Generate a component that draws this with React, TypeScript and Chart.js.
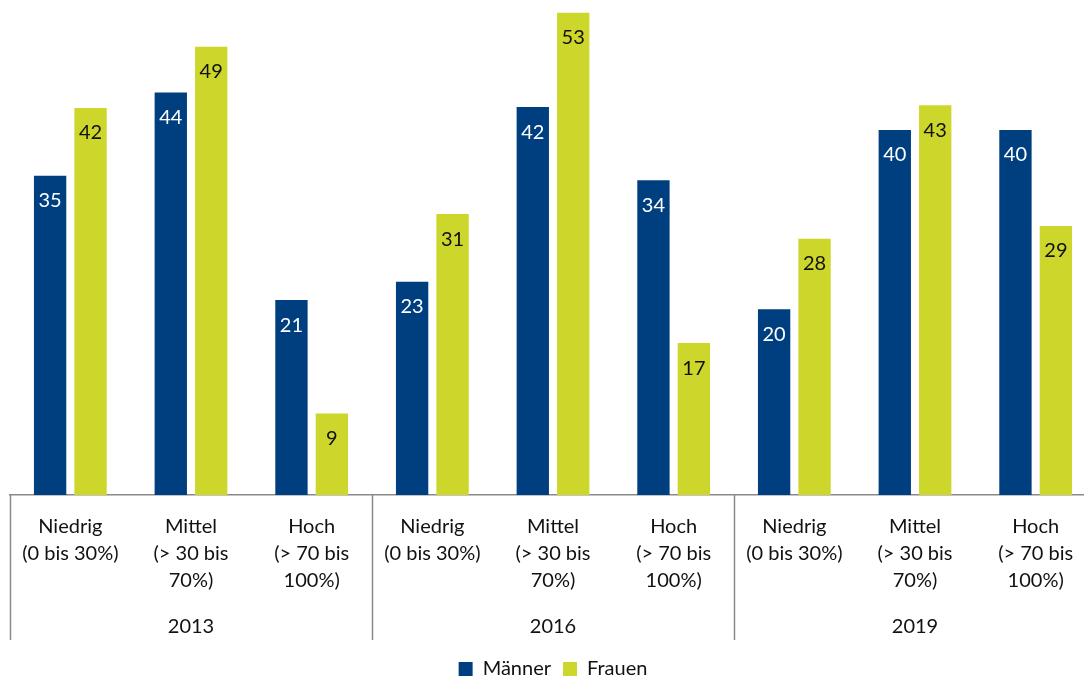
import React, { useEffect, useRef } from "react";
import { Chart, registerables } from "chart.js";

Chart.register(...registerables);

const categories: string[][] = [
  ["Niedrig", "(0 bis 30%)"],
  ["Mittel", "(> 30 bis", "70%)"],
  ["Hoch", "(> 70 bis", "100%)"],
  ["Niedrig", "(0 bis 30%)"],
  ["Mittel", "(> 30 bis", "70%)"],
  ["Hoch", "(> 70 bis", "100%)"],
  ["Niedrig", "(0 bis 30%)"],
  ["Mittel", "(> 30 bis", "70%)"],
  ["Hoch", "(> 70 bis", "100%)"],
];
const years = ["2013", "2016", "2019"];
const maenner = [34.9, 44.0, 21.3, 23.3, 42.4, 34.4, 20.3, 39.9, 39.9];
const frauen = [42.3, 49.0, 8.9, 30.7, 52.7, 16.6, 28.0, 42.6, 29.4];

const FONT = "Lato, 'Open Sans', sans-serif";
const BLUE = "#003F7F";
const GREEN = "#CDD62B";
const LINE = "#8a8a8a";

const groupPlugin = {
  id: "groupPlugin",
  afterDraw(chart: any) {
    const ctx = chart.ctx;
    const x = chart.scales.x;
    const area = chart.chartArea;
    const n = categories.length;
    const w = (x.right - x.left) / n;
    ctx.save();
    ctx.strokeStyle = LINE;
    ctx.lineWidth = 1.5;
    for (let g = 0; g < years.length; g++) {
      const lx = Math.round(x.getPixelForValue(g * 3) - w / 2) + 0.5;
      ctx.beginPath();
      ctx.moveTo(lx, area.bottom);
      ctx.lineTo(lx, area.bottom + 145);
      ctx.stroke();
      ctx.fillStyle = "#111";
      ctx.font = `20px ${FONT}`;
      ctx.textAlign = "center";
      ctx.textBaseline = "middle";
      ctx.fillText(years[g], x.getPixelForValue(g * 3 + 1), area.bottom + 132);
    }
    // value labels
    ctx.font = `20px ${FONT}`;
    ctx.textAlign = "center";
    ctx.textBaseline = "middle";
    chart.data.datasets.forEach((ds: any, di: number) => {
      const meta = chart.getDatasetMeta(di);
      meta.data.forEach((bar: any, i: number) => {
        ctx.fillStyle = di === 0 ? "#ffffff" : "#111111";
        ctx.fillText(String(Math.round(ds.data[i])), bar.x, bar.y + 25);
      });
    });
    ctx.restore();
  },
};

export default function App() {
  const ref = useRef<HTMLCanvasElement>(null);
  useEffect(() => {
    document.body.style.margin = "0";
    const chart = new Chart(ref.current!, {
      type: "bar",
      data: {
        labels: categories,
        datasets: [
          { label: "Männer", data: maenner, backgroundColor: BLUE },
          { label: "Frauen", data: frauen, backgroundColor: GREEN },
        ],
      },
      options: {
        animation: false,
        responsive: true,
        maintainAspectRatio: false,
        layout: { padding: { left: 10, right: 0, top: 0, bottom: -9 } },
        datasets: { bar: { categoryPercentage: 0.67, barPercentage: 0.8 } },
        scales: {
          x: {
            grid: { display: false, drawTicks: false },
            border: { display: true, color: LINE, width: 1.5 },
            ticks: {
              color: "#111",
              font: { family: FONT, size: 20, lineHeight: 1.35 },
              padding: 18,
              maxRotation: 0,
              autoSkip: false,
            },
            afterFit(scale: any) {
              scale.height = 152;
            },
          },
          y: {
            display: false,
            min: 0,
            max: 54.1,
          },
        },
        plugins: {
          legend: {
            position: "bottom",
            labels: {
              font: { family: FONT, size: 20 },
              color: "#111",
              boxWidth: 14,
              boxHeight: 14,
              padding: 12,
            },
          },
          tooltip: { enabled: false },
        },
      },
      plugins: [groupPlugin],
    });
    return () => chart.destroy();
  }, []);
  return (
    <div style={{ position: "absolute", left: 0, top: 0, width: 1084, height: 680, overflow: "hidden" }}>
      <div style={{ position: "relative", width: 1096, height: 680 }}>
        <canvas ref={ref} />
      </div>
    </div>
  );
}
